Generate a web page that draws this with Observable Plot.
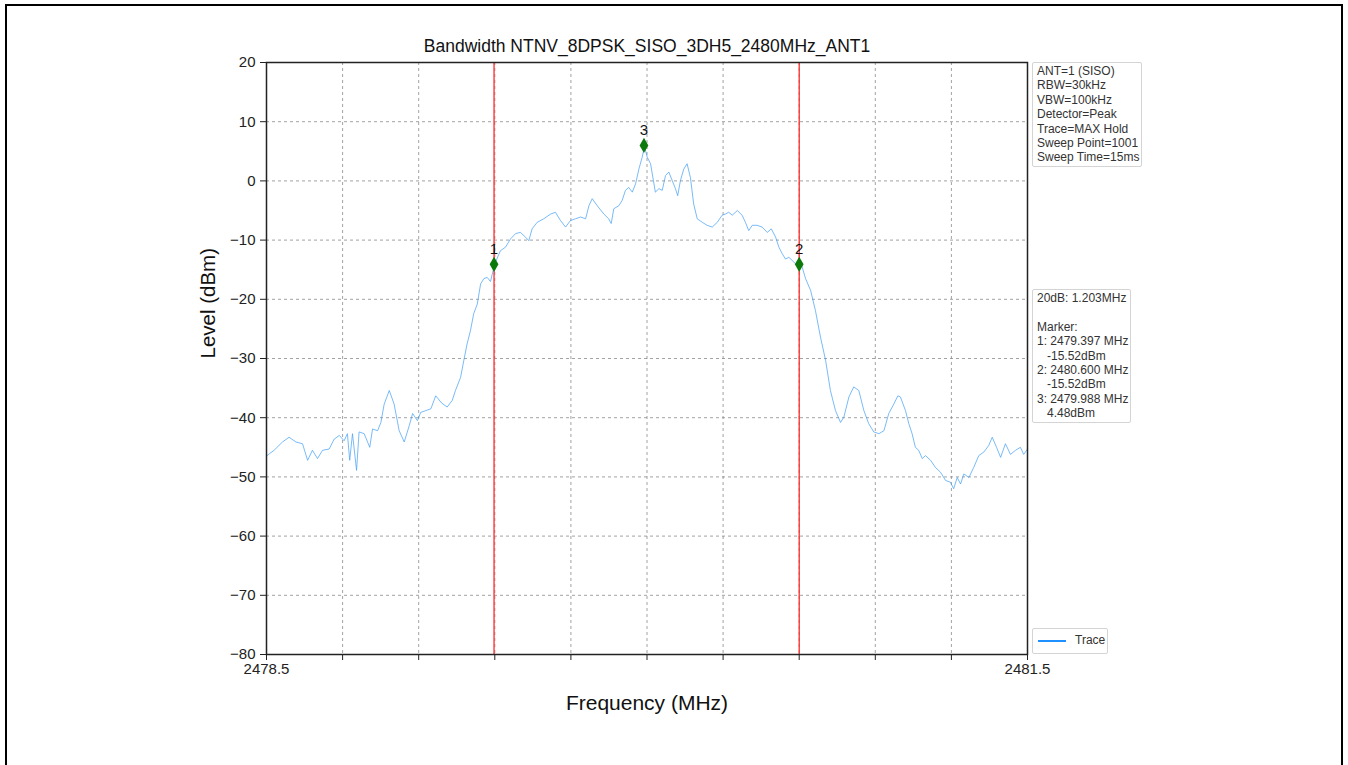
<!DOCTYPE html>
<html>
<head>
<meta charset="utf-8">
<script src="https://cdn.jsdelivr.net/npm/d3@7"></script>
<script src="https://cdn.jsdelivr.net/npm/@observablehq/plot@0.6"></script>
<style>
  html, body { margin: 0; padding: 0; background: #fff; overflow: hidden; }
  #wrap { position: relative; width: 1348px; height: 765px; font-family: "Liberation Sans", Arial, sans-serif; }
  #wrap svg { position: absolute; left: 0; top: 0; }
  .border { position: absolute; left: 5px; top: 4px; width: 1334px; height: 800px; border: 2px solid #000; pointer-events: none; }
  .box { position: absolute; background: rgba(255,255,255,0.85); border: 1px solid #d4d4d4; border-radius: 2px; font-size: 12px; line-height: 14.4px; color: #333; white-space: pre; box-sizing: border-box; }
  .legend { position: absolute; left: 1032px; top: 628px; width: 76px; height: 26px; border: 1px solid #d4d4d4; border-radius: 2px; background: #fff; box-sizing: border-box; font-size: 12px; color: #333; }
  .legend .ln { position: absolute; left: 5px; top: 11px; width: 28px; height: 0; border-top: 2px solid #1E90FF; }
  .legend .tx { position: absolute; left: 42px; top: 4px; }
</style>
</head>
<body>
<div id="wrap">
  <div class="border"></div>
</div>
<script>
// ---- Data ----
const title = "Bandwidth NTNV_8DPSK_SISO_3DH5_2480MHz_ANT1";
const xLabel = "Frequency (MHz)";
const yLabel = "Level (dBm)";

const freq = [
  2478.500, 2478.511, 2478.530, 2478.563, 2478.589, 2478.616, 2478.642, 2478.662, 2478.681, 2478.701,
  2478.721, 2478.747, 2478.767, 2478.787, 2478.806, 2478.819, 2478.828, 2478.839, 2478.855, 2478.865,
  2478.885, 2478.907, 2478.918, 2478.938, 2478.951, 2478.964, 2478.984, 2479.003, 2479.023, 2479.043,
  2479.063, 2479.076, 2479.095, 2479.108, 2479.128, 2479.148, 2479.167, 2479.190, 2479.212, 2479.232,
  2479.245, 2479.265, 2479.278, 2479.291, 2479.304, 2479.317, 2479.331, 2479.344, 2479.357, 2479.370,
  2479.383, 2479.400, 2479.422, 2479.442, 2479.462, 2479.482, 2479.501, 2479.521, 2479.534, 2479.547,
  2479.567, 2479.593, 2479.620, 2479.639, 2479.659, 2479.679, 2479.698, 2479.718, 2479.738, 2479.758,
  2479.771, 2479.784, 2479.804, 2479.830, 2479.849, 2479.859, 2479.869, 2479.889, 2479.902, 2479.915,
  2479.928, 2479.942, 2479.955, 2479.968, 2479.981, 2479.990, 2480.001, 2480.014, 2480.033, 2480.047,
  2480.060, 2480.073, 2480.086, 2480.099, 2480.112, 2480.121, 2480.132, 2480.145, 2480.158, 2480.171,
  2480.184, 2480.198, 2480.218, 2480.237, 2480.257, 2480.277, 2480.296, 2480.309, 2480.322, 2480.336,
  2480.356, 2480.375, 2480.388, 2480.401, 2480.415, 2480.434, 2480.454, 2480.474, 2480.490, 2480.507,
  2480.520, 2480.533, 2480.546, 2480.559, 2480.579, 2480.598, 2480.608, 2480.625, 2480.645, 2480.664,
  2480.684, 2480.704, 2480.723, 2480.743, 2480.763, 2480.776, 2480.796, 2480.815, 2480.835, 2480.855,
  2480.874, 2480.894, 2480.914, 2480.934, 2480.953, 2480.973, 2480.989, 2480.999, 2481.019, 2481.032,
  2481.045, 2481.058, 2481.071, 2481.085, 2481.098, 2481.118, 2481.137, 2481.157, 2481.177, 2481.196,
  2481.209, 2481.223, 2481.236, 2481.249, 2481.269, 2481.288, 2481.308, 2481.328, 2481.347, 2481.361,
  2481.378, 2481.394, 2481.413, 2481.433, 2481.453, 2481.472, 2481.485, 2481.500
];
const level = [
  -46.5, -46.1, -45.5, -44.1, -43.3, -44.1, -44.4, -47.2, -45.5, -46.9,
  -45.5, -45.3, -43.6, -43.0, -43.9, -42.7, -47.2, -42.7, -48.9, -42.4,
  -42.7, -45.0, -41.9, -42.2, -40.8, -37.7, -35.4, -37.7, -42.2, -44.1,
  -41.3, -39.3, -40.5, -39.1, -38.8, -38.5, -36.3, -37.5, -38.2, -37.1,
  -35.4, -33.2, -30.3, -27.5, -25.3, -22.4, -20.8, -17.4, -16.5, -16.3,
  -17.0, -14.0, -11.8, -11.2, -9.8, -8.9, -8.7, -9.5, -10.1, -8.1,
  -7.0, -6.4, -5.6, -5.3, -6.7, -7.8, -6.7, -6.4, -6.1, -6.4,
  -4.2, -3.0, -4.2, -5.6, -6.4, -7.2, -4.7, -4.2, -3.3, -1.6,
  -1.1, -1.9, -0.5, 2.0, 4.0, 5.8, 4.0, 2.9, -1.9, -1.3,
  -1.6, 0.9, 1.5, 0.1, -1.3, -2.5, 0.1, 2.0, 2.9, 0.6,
  -3.9, -6.4, -7.0, -7.5, -7.8, -7.0, -5.8, -5.6, -5.3, -5.8,
  -5.0, -5.8, -7.0, -8.4, -7.5, -7.5, -7.8, -8.7, -8.1, -9.5,
  -11.2, -12.3, -13.2, -12.9, -13.7, -14.6, -14.0, -16.5, -18.5, -21.9,
  -26.4, -30.3, -35.4, -38.8, -40.8, -39.9, -36.5, -34.8, -35.4, -38.8,
  -41.0, -42.4, -42.7, -42.2, -39.3, -37.7, -36.3, -36.5, -38.8, -41.0,
  -42.7, -45.0, -45.5, -46.9, -46.4, -47.2, -48.4, -49.2, -50.6, -50.9,
  -52.0, -50.1, -51.2, -49.5, -50.1, -48.4, -46.4, -45.8, -44.7, -43.3,
  -45.0, -46.7, -44.4, -46.2, -45.5, -45.0, -46.2, -45.3
];

const markerLabels = ["1", "2", "3"];
const markerFreq = [2479.397, 2480.600, 2479.988];
const markerLevel = [-14.1, -14.1, 6.0];

const xTicks = [2478.5, 2478.8, 2479.1, 2479.4, 2479.7, 2480.0, 2480.3, 2480.6, 2480.9, 2481.2, 2481.5];
const xTickLabels = ["2478.5", "", "", "", "", "", "", "", "", "", "2481.5"];
const yTicks = [20, 10, 0, -10, -20, -30, -40, -50, -60, -70, -80];

const infoLines = ["ANT=1 (SISO)", "RBW=30kHz", "VBW=100kHz", "Detector=Peak", "Trace=MAX Hold", "Sweep Point=1001", "Sweep Time=15ms"];
const markerLines = ["20dB: 1.203MHz", "", "Marker:", "1: 2479.397 MHz", "   -15.52dBm", "2: 2480.600 MHz", "   -15.52dBm", "3: 2479.988 MHz", "   4.48dBm"];
const legendLabel = "Trace";

// ---- Build ----
const trace = freq.map((f, i) => ({f, l: level[i]}));
const markers = markerFreq.map((f, i) => ({f, l: markerLevel[i], label: markerLabels[i]}));

const chart = Plot.plot({
  width: 1348,
  height: 765,
  marginLeft: 266,
  marginRight: 321,
  marginTop: 62,
  marginBottom: 111,
  style: {fontFamily: "'Liberation Sans', Arial, sans-serif", background: "transparent", color: "#222"},
  x: {domain: [2478.5, 2481.5]},
  y: {domain: [-80, 20]},
  marks: [
    Plot.gridX(xTicks, {stroke: "#8a8a8a", strokeOpacity: 1, strokeWidth: 0.8, strokeDasharray: "3,3"}),
    Plot.gridY(yTicks, {stroke: "#8a8a8a", strokeOpacity: 1, strokeWidth: 0.8, strokeDasharray: "3,3"}),
    Plot.ruleX(markerFreq.slice(0, 2), {stroke: "#ff2a2a", strokeWidth: 1.3}),
    Plot.line(trace, {x: "f", y: "l", stroke: "#3f9ef5", strokeWidth: 0.7}),
    Plot.dot(markers, {x: "f", y: "l", symbol: "diamond", r: 4.6, fill: "#0b7a0b", stroke: "none"}),
    Plot.text(markers, {x: "f", y: "l", text: "label", dy: -15, fontSize: 15, fill: "#111"}),
    Plot.frame({stroke: "#222", strokeWidth: 1.5}),
    Plot.axisX(xTicks, {tickSize: 6, tickPadding: 3, fontSize: 15, label: null,
      tickFormat: (d) => xTickLabels[xTicks.indexOf(d)]}),
    Plot.axisY(yTicks, {tickSize: 6, tickPadding: 5, fontSize: 15, label: null}),
    Plot.text([title], {frameAnchor: "top", lineAnchor: "middle", dy: -16, fontSize: 17.5, fill: "#111"}),
    Plot.text([xLabel], {frameAnchor: "bottom", lineAnchor: "middle", dy: 49, fontSize: 21, fill: "#111"}),
    Plot.text([yLabel], {frameAnchor: "left", lineAnchor: "middle", dx: -58, rotate: -90, fontSize: 20.5, fill: "#111"})
  ]
});

const wrap = document.getElementById("wrap");
wrap.insertBefore(chart, wrap.firstChild);

function addBox(lines, left, top, width, height) {
  const div = document.createElement("div");
  div.className = "box";
  div.style.left = left + "px";
  div.style.top = top + "px";
  div.style.width = width + "px";
  div.style.height = height + "px";
  div.style.padding = "1px 4px";
  div.textContent = lines.join("\n");
  wrap.appendChild(div);
}
addBox(infoLines, 1032, 62, 110, 105);
addBox(markerLines, 1032, 289, 99, 134);

const leg = document.createElement("div");
leg.className = "legend";
leg.innerHTML = '<div class="ln"></div><div class="tx"></div>';
leg.querySelector(".tx").textContent = legendLabel;
wrap.appendChild(leg);
</script>
</body>
</html>
